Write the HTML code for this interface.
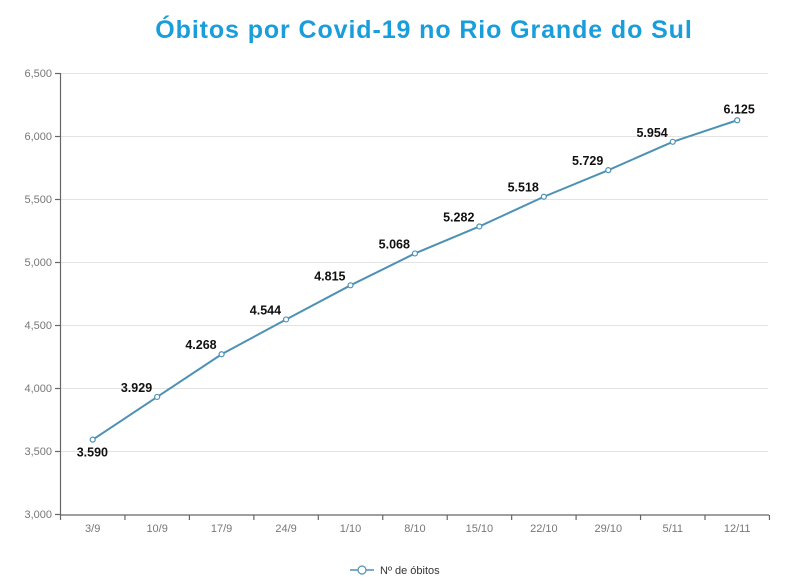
<!DOCTYPE html>
<html><head><meta charset="utf-8"><style>
body{margin:0;background:#fff;}
svg{display:block;font-family:"Liberation Sans",Arial,sans-serif;}
</style></head><body>
<svg width="800" height="584" viewBox="0 0 800 584">
<text x="424" y="38" text-anchor="middle" font-size="25" font-weight="bold" fill="#1a9ddb" letter-spacing="0.9">Óbitos por Covid-19 no Rio Grande do Sul</text>
<g stroke="#e3e3e3" stroke-width="1">
<line x1="60" x2="768" y1="73.5" y2="73.5"/><line x1="60" x2="768" y1="136.5" y2="136.5"/>
<line x1="60" x2="768" y1="199.5" y2="199.5"/><line x1="60" x2="768" y1="262.5" y2="262.5"/>
<line x1="60" x2="768" y1="325.5" y2="325.5"/><line x1="60" x2="768" y1="388.5" y2="388.5"/>
<line x1="60" x2="768" y1="451.5" y2="451.5"/>
</g>
<g stroke="#666" stroke-width="1.2">
<line x1="60.5" x2="60.5" y1="73" y2="515"/>
<line x1="60" x2="769" y1="515" y2="515"/>
<line x1="55" x2="60" y1="73.5" y2="73.5"/><line x1="55" x2="60" y1="136.5" y2="136.5"/>
<line x1="55" x2="60" y1="199.5" y2="199.5"/><line x1="55" x2="60" y1="262.5" y2="262.5"/>
<line x1="55" x2="60" y1="325.5" y2="325.5"/><line x1="55" x2="60" y1="388.5" y2="388.5"/>
<line x1="55" x2="60" y1="451.5" y2="451.5"/><line x1="55" x2="60" y1="514.5" y2="514.5"/>
</g>
<g stroke="#666" stroke-width="1.2" id="xt"></g>
<g font-size="11" fill="#777" text-anchor="end">
<text x="52" y="77">6,500</text><text x="52" y="140">6,000</text><text x="52" y="203">5,500</text>
<text x="52" y="266">5,000</text><text x="52" y="329">4,500</text><text x="52" y="392">4,000</text>
<text x="52" y="455">3,500</text><text x="52" y="518">3,000</text>
</g>
<g id="g"></g>
<g transform="translate(350,570)">
<line x1="0" x2="24" y1="0" y2="0" stroke="#4e91b4" stroke-width="1.5"/>
<circle cx="12" cy="0" r="4" fill="#fff" stroke="#4e91b4" stroke-width="1.2"/>
<text x="30" y="4" font-size="11" fill="#333">Nº de óbitos</text>
</g>
<script>
var d=[["3/9",3590],["10/9",3929],["17/9",4268],["24/9",4544],["1/10",4815],["8/10",5068],["15/10",5282],["22/10",5518],["29/10",5729],["5/11",5954],["12/11",6125]];
var ns="http://www.w3.org/2000/svg",g=document.getElementById("g"),xt=document.getElementById("xt");
function el(t,a,p,txt){var e=document.createElementNS(ns,t);for(var k in a)e.setAttribute(k,a[k]);if(txt)e.textContent=txt;(p||g).appendChild(e);return e;}
var pts=[];
for(var i=0;i<=11;i++){var tx=60.5+64.45*i;el("line",{x1:tx,x2:tx,y1:515,y2:520},xt);}
d.forEach(function(v,i){var x=92.7+64.45*i,y=514-(v[1]-3000)*0.126;pts.push([x,y]);
el("text",{x:x,y:532,"font-size":11,fill:"#777","text-anchor":"middle"},g,v[0]);});
el("polyline",{points:pts.map(function(p){return p.join(",")}).join(" "),fill:"none",stroke:"#4e91b4","stroke-width":2});
d.forEach(function(v,i){var p=pts[i];el("circle",{cx:p[0],cy:p[1],r:2.5,fill:"#fff",stroke:"#4e91b4","stroke-width":1.2});
var s=(v[1]/1000).toFixed(3);
if(i==0)el("text",{x:p[0]-16,y:p[1]+17,"font-size":12.5,"font-weight":"bold",fill:"#111"},g,s);
else if(i==10)el("text",{x:p[0]+2,y:p[1]-7,"font-size":12.5,"font-weight":"bold",fill:"#111","text-anchor":"middle"},g,s);
else el("text",{x:p[0]-5,y:p[1]-5,"font-size":12.5,"font-weight":"bold",fill:"#111","text-anchor":"end"},g,s);});
</script>
</svg>
</body></html>
